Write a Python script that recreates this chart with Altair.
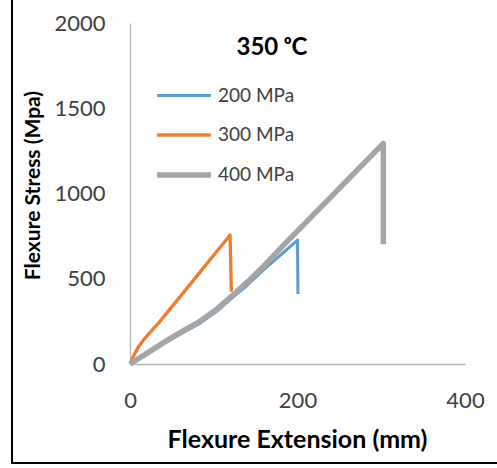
import altair as alt
import pandas as pd

# ---- data ----
series = ["200 MPa", "300 MPa", "400 MPa"]
colors = ["#5B9BD5", "#ED7D31", "#A5A5A5"]
widths = [3, 3.3, 5.5]

x200 = [0, 20, 44, 64, 84, 104, 123, 140, 160, 180, 200, 200.5]
y200 = [0, 58, 130, 186, 240, 310, 392, 462, 555, 640, 727, 410]
x300 = [0, 5, 10, 16, 24, 34, 54, 74, 94, 119.5, 121]
y300 = [0, 55, 100, 140, 185, 240, 360, 480, 602, 757, 424]
x400 = [0, 20, 44, 64, 84, 104, 123, 140, 160, 179, 240, 302.5, 302.5]
y400 = [0, 62, 138, 196, 252, 323, 405, 480, 575, 675, 980, 1294, 702]

x_ticks = [0, 200, 400]
y_ticks = [0, 500, 1000, 1500, 2000]
title_text = "350 ᵒC"

rows = []
for name, xs, ys in zip(series, [x200, x300, x400], [y200, y300, y400]):
    for i, (a, b) in enumerate(zip(xs, ys)):
        rows.append({"x": a, "y": b, "series": name, "i": i})
df = pd.DataFrame(rows)

FONT = "Lato"

legend_cfg = dict(
    title=None, orient="none", legendX=24, legendY=44,
    symbolType="stroke", symbolSize=2900, labelFontSize=19,
    labelFont=FONT, labelColor="#404040", rowPadding=0, labelOffset=4,
)

lines = alt.Chart(df).mark_line(strokeCap="butt", strokeJoin="round").encode(
    x=alt.X("x:Q", scale=alt.Scale(domain=[0, 400], nice=False),
            axis=alt.Axis(values=x_ticks, format="d", title="Flexure Extension (mm)",
                          titleX=167, titleY=83, titleBaseline="alphabetic",
                          titleFontSize=25, labelFlush=False, labelPadding=26)),
    y=alt.Y("y:Q", scale=alt.Scale(domain=[0, 2000], nice=False),
            axis=alt.Axis(values=y_ticks, format="d", title="Flexure Stress (Mpa)",
                          titleX=-97, titleY=162, titleAngle=-90,
                          titleBaseline="middle", titleAlign="center",
                          titleFontSize=21, labelPadding=25)),
    color=alt.Color("series:N", scale=alt.Scale(domain=series, range=colors),
                    legend=alt.Legend(**legend_cfg)),
    strokeWidth=alt.StrokeWidth("series:O",
                                scale=alt.Scale(type="ordinal", domain=series, range=widths),
                                legend=alt.Legend(**legend_cfg)),
    order=alt.Order("i:Q"),
)

one = pd.DataFrame({"a": [0]})
frame_left = alt.Chart(one).mark_rule(color="#000000", strokeWidth=2).encode(
    x=alt.value(-118), y=alt.value(-23), y2=alt.value(441))
frame_bottom = alt.Chart(one).mark_rule(color="#000000", strokeWidth=2).encode(
    x=alt.value(-119), x2=alt.value(367), y=alt.value(440))

title = alt.Chart(pd.DataFrame({"t": [title_text]})).mark_text(
    font=FONT, fontWeight="bold", fontSize=24, color="#000000",
    align="center", baseline="alphabetic").encode(
    x=alt.value(142), y=alt.value(32), text="t:N")

chart = alt.layer(lines, frame_left, frame_bottom, title).properties(
    width=335, height=341,
    autosize=alt.AutoSizeParams(type="none"),
    padding={"left": 130, "top": 23, "right": 32, "bottom": 104},
    background="white",
).configure_view(stroke=None).configure_axis(
    grid=False, ticks=False, domainColor="#B4B4B4", domainWidth=1.3,
    labelFont=FONT, labelFontSize=22, labelColor="#404040",
    titleFont=FONT, titleFontSize=22, titleFontWeight="bold", titleColor="#000000",
)

chart.save("out.html", embed_options={"renderer": "svg", "actions": False})
